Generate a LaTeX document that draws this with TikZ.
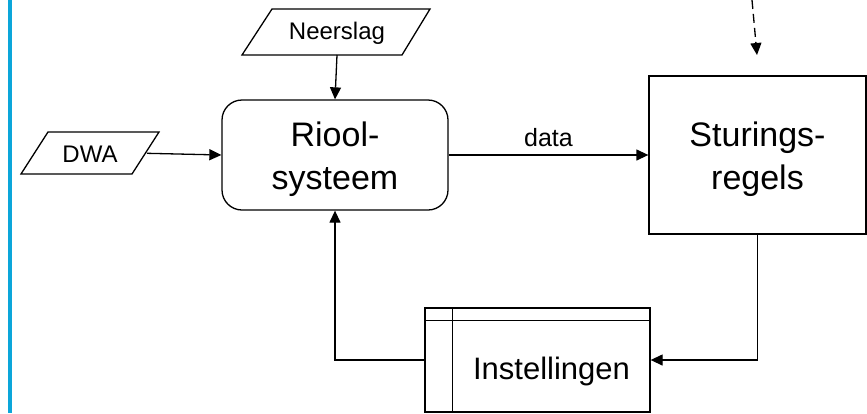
\documentclass[tikz,border=0pt]{standalone}
\usepackage{fontspec}
\setmainfont{Liberation Sans}
\usetikzlibrary{arrows.meta}
\definecolor{barblue}{RGB}{12,166,218}
\tikzset{
  ln/.style={line width=1.3pt, draw=black},
  arr/.style={ln, -{Triangle[length=12pt,width=11pt]}},
  dasharr/.style={arr, dash pattern=on 9pt off 5pt},
  bigtxt/.style={font=\fontsize{34}{43}\selectfont, align=center, inner sep=0pt},
  midtxt/.style={font=\fontsize{31}{36}\selectfont, align=center, inner sep=0pt},
  smalltxt/.style={font=\fontsize{24}{28}\selectfont},
  boxnode/.style={ln, inner sep=0pt, align=center},
}
\begin{document}
\begin{tikzpicture}[x=1pt,y=-1pt]
\useasboundingbox (0,0) rectangle (867,413);
\fill[white] (0,0) rectangle (867,413);
% blue bar
\fill[barblue] (8,0) rectangle (12.3,413);

% Neerslag parallelogram
\draw[ln] (242,55) -- (272,9) -- (430,9) -- (402,55) -- cycle;
\node[smalltxt] (neer) at (337,33) {Neerslag};
\coordinate (neerb) at (337,55);

% DWA parallelogram
\draw[ln] (21,174) -- (48,132) -- (159,132) -- (132,174) -- cycle;
\node[smalltxt] (dwa) at (90,154) {DWA};
\coordinate (dwar) at (147,153.3);

% Riool-systeem
\node[boxnode, draw, rounded corners=20pt, minimum width=226pt, minimum height=110pt] (riool) at (335,155) {};
\node[bigtxt] (riooltxt) at (335,159) {Riool-\\systeem};

% Sturingsregels
\node[boxnode, draw, minimum width=217pt, minimum height=158pt] (stur) at (757.5,155) {};
\node[bigtxt] (sturtxt) at (757.5,159) {Sturings-\\regels};

% Instellingen
\node[boxnode, draw, minimum width=225pt, minimum height=104pt] (inst) at (537.5,360) {};
\draw[ln] ([xshift=28pt]inst.north west) -- ([xshift=28pt]inst.south west);
\draw[ln] ([yshift=-13pt]inst.north west) -- ([yshift=-13pt]inst.north east);
\node[midtxt] (insttxt) at (551.5,371) {Instellingen};

% dashed incoming arrow
\coordinate (dstart) at (752,0);
\coordinate (dend) at (757,55);
\draw[dasharr] (dstart) -- (dend);

% connectors
\draw[arr] (neerb) -- (riool.north);
\draw[arr] (dwar) -- (riool.west);
\draw[arr] (riool.east) -- node[font=\fontsize{25}{28}\selectfont, above=4pt] (datalbl) {data} (stur.west);
\draw[arr] (stur.south) |- (inst.east);
\draw[arr] (inst.west) -| (riool.south);
\end{tikzpicture}
\end{document}
